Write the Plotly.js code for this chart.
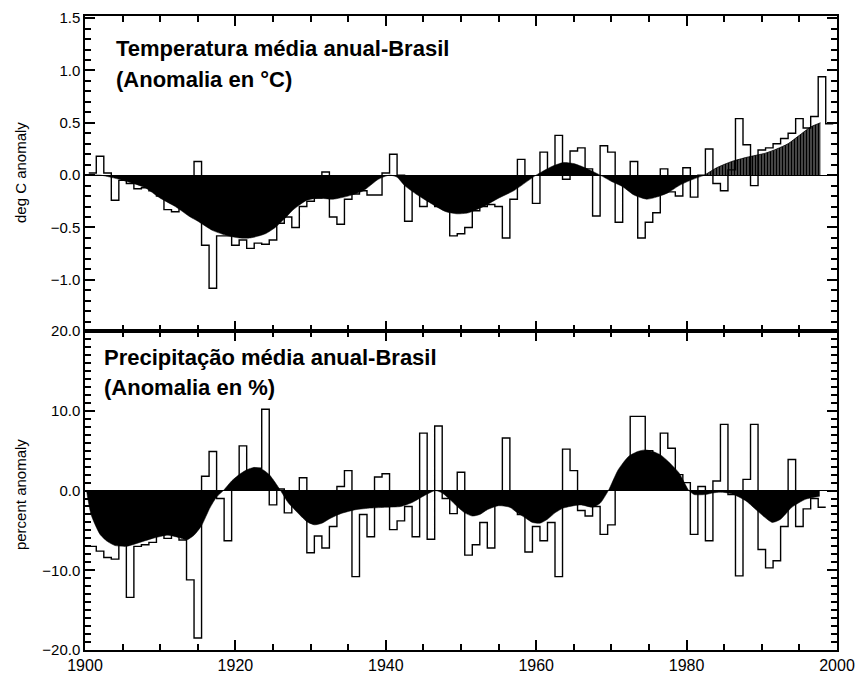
<!DOCTYPE html>
<html>
<head>
<meta charset="utf-8">
<script src="https://cdn.plot.ly/plotly-3.0.1.min.js"></script>
<style>html,body{margin:0;padding:0;background:#fff;}#chart{width:860px;height:674px;}</style>
</head>
<body>
<div id="chart"></div>
<script>
// ---------- DATA ----------
// Temperature: annual anomaly (deg C), years 1901-1999
const tempYears = [];
for (let y = 1901; y <= 1999; y++) tempYears.push(y);
const tempValues = [
  0.02, 0.18, 0.02, -0.24, -0.05, -0.08, -0.13, -0.12, -0.15, -0.20,   // 1901-1910
  -0.33, -0.35, -0.30, -0.32, 0.13, -0.67, -1.08, -0.58, -0.58, -0.67, // 1911-1920
  -0.62, -0.70, -0.65, -0.66, -0.62, -0.46, -0.40, -0.50, -0.30, -0.25, // 1921-1930
  -0.22, 0.03, -0.40, -0.47, -0.23, -0.18, -0.15, -0.19, -0.19, 0.02,  // 1931-1940
  0.20, 0.00, -0.44, -0.15, -0.30, -0.25, -0.30, -0.32, -0.58, -0.56,  // 1941-1950
  -0.50, -0.34, -0.30, -0.28, -0.30, -0.60, -0.23, 0.15, -0.02, -0.27, // 1951-1960
  0.22, 0.05, 0.38, -0.04, 0.23, 0.26, 0.06, -0.39, 0.28, 0.22,        // 1961-1970
  -0.45, -0.10, 0.13, -0.60, -0.45, -0.36, 0.06, -0.16, -0.20, 0.07,   // 1971-1980
  -0.21, 0.00, 0.25, -0.08, -0.15, 0.05, 0.54, 0.29, -0.10, 0.24,      // 1981-1990
  0.26, 0.30, 0.35, 0.40, 0.54, 0.45, 0.56, 0.94, 0.49                 // 1991-1999
];
// Temperature: smoothed curve
const tempSmoothYears = [1900, 1902, 1904, 1906, 1908, 1910, 1912, 1914, 1915, 1917, 1919, 1920.5, 1922, 1924, 1925.3, 1926.5, 1927.7, 1929.5, 1931, 1933, 1935, 1937, 1939, 1940.5, 1941.5, 1942.5, 1944, 1946, 1948, 1949.5, 1951, 1953, 1955, 1957, 1959, 1960, 1962, 1963.6, 1965, 1966.5, 1968.5, 1970, 1971.5, 1973, 1974.7, 1976, 1977.5, 1979, 1980.5, 1982.4, 1984, 1986, 1988, 1990.5, 1992, 1993.5, 1995, 1996.5, 1997.8];
const tempSmooth = [0.0, 0.0, -0.03, -0.07, -0.12, -0.22, -0.30, -0.40, -0.44, -0.53, -0.58, -0.60, -0.60, -0.56, -0.50, -0.42, -0.33, -0.24, -0.22, -0.23, -0.20, -0.15, -0.04, 0.0, -0.02, -0.10, -0.18, -0.27, -0.35, -0.37, -0.36, -0.30, -0.22, -0.15, -0.05, 0.0, 0.08, 0.12, 0.11, 0.07, 0.0, -0.06, -0.11, -0.19, -0.23, -0.21, -0.17, -0.10, -0.05, 0.0, 0.07, 0.13, 0.17, 0.21, 0.25, 0.30, 0.38, 0.46, 0.50];

// Precipitation: annual anomaly (%), years 1901-1998
const precYears = [];
for (let y = 1901; y <= 1998; y++) precYears.push(y);
const precValues = [
  -7.0, -7.6, -8.4, -8.6, -6.5, -13.4, -7.0, -6.8, -6.5, -5.3,   // 1901-1910
  -6.0, -5.6, -6.2, -11.2, -18.5, 1.8, 4.9, -1.0, -6.3, 0.3,      // 1911-1920
  5.6, 2.5, 2.8, 10.2, -1.8, 0.2, -2.8, -0.5, 1.6, -7.8,          // 1921-1930
  -5.7, -7.2, -4.5, 0.5, 2.5, -10.8, -3.0, -5.8, 1.7, 2.1,        // 1931-1940
  -4.9, -3.8, -2.0, -5.8, 7.2, -6.1, 8.1, -1.0, -2.9, 2.3,        // 1941-1950
  -8.1, -6.8, -4.0, -7.2, -1.5, 6.6, -2.0, -3.0, -7.7, -4.5,      // 1951-1960
  -6.3, -4.0, -10.8, 5.2, 2.5, -2.5, -3.2, -2.0, -5.5, -4.3,      // 1961-1970
  0.5, 2.5, 9.3, 9.3, 5.0, 4.0, 7.2, 5.3, 2.0, 1.0,               // 1971-1980
  -5.5, 0.5, -6.3, 1.2, 8.3, -0.5, -10.7, 1.4, 8.3, -7.4,         // 1981-1990
  -9.7, -8.8, -4.5, 3.9, -4.5, -2.3, -1.0, -2.1                   // 1991-1998
];
// Precipitation: smoothed curve
const precSmoothYears = [1900.2, 1900.8, 1902, 1903, 1904, 1905.5, 1907, 1909, 1911, 1912.5, 1913.5, 1914.5, 1915.5, 1916.6, 1917.5, 1918.4, 1919.5, 1920.5, 1921.5, 1922.5, 1923.5, 1924.5, 1925.3, 1926, 1927, 1928.5, 1929.5, 1930.5, 1931.5, 1932.6, 1934, 1936, 1938, 1940, 1942, 1943.5, 1945, 1946.6, 1947.5, 1948.5, 1949.5, 1950.5, 1951.5, 1952.5, 1953.5, 1955, 1956.5, 1957.5, 1958.5, 1959.5, 1960.5, 1961.5, 1962.5, 1963.6, 1965, 1966, 1967.5, 1968.5, 1969.6, 1970.9, 1972.3, 1973.5, 1974.5, 1975.5, 1976.5, 1977.5, 1979, 1980.3, 1981, 1982.5, 1983.5, 1984.5, 1986, 1987.9, 1989.7, 1991.4, 1992.5, 1994, 1995.8, 1997.7];
const precSmooth = [0, -3.0, -5.5, -6.4, -6.9, -7.0, -6.6, -6.0, -5.6, -5.9, -6.2, -5.6, -4.4, -2.2, -0.8, 0.0, 1.2, 2.0, 2.6, 2.9, 2.7, 2.0, 1.0, 0.0, -1.5, -3.0, -3.9, -4.3, -4.1, -3.5, -2.9, -2.4, -2.2, -2.1, -2.0, -1.5, -0.7, 0.0, -0.3, -1.1, -2.0, -2.8, -3.2, -3.0, -2.4, -1.9, -2.1, -2.8, -3.4, -4.0, -4.1, -3.6, -2.8, -2.2, -1.9, -1.8, -2.1, -1.6, 0.0, 2.6, 4.3, 4.9, 5.1, 4.9, 4.5, 3.7, 2.2, 0.0, -0.5, -0.5, -0.3, -0.2, -0.4, -1.3, -2.8, -4.0, -3.6, -2.1, -1.1, -0.7];

// ---------- BUILD ----------
function stepXY(years, vals) {
  const x = years.map(v => v - 0.5);
  const y = vals.slice();
  x.push(years[years.length - 1] + 0.5);
  y.push(vals[vals.length - 1]);
  return {x, y};
}
const tS = stepXY(tempYears, tempValues);
const pS = stepXY(precYears, precValues);

const split = 1982.4;
const tA = {x: [], y: []}, tB = {x: [], y: []};
tempSmoothYears.forEach((yr, i) => {
  if (yr <= split) { tA.x.push(yr); tA.y.push(tempSmooth[i]); }
  if (yr >= split) { tB.x.push(yr); tB.y.push(tempSmooth[i]); }
});

const FONT = 'Liberation Sans, Arial, Helvetica, sans-serif';

const traces = [
  {x: tA.x, y: tA.y, xaxis: 'x2', yaxis: 'y2', type: 'scatter', mode: 'lines',
   line: {color: 'black', width: 0.5, shape: 'spline', smoothing: 0.6}, fill: 'tozeroy', fillcolor: 'black', hoverinfo: 'skip'},
  {x: tB.x, y: tB.y, xaxis: 'x2', yaxis: 'y2', type: 'scatter', mode: 'lines',
   line: {color: 'black', width: 0.8, shape: 'spline', smoothing: 0.6}, fill: 'tozeroy',
   fillpattern: {shape: '|', fgcolor: 'black', bgcolor: 'white', size: 3, solidity: 0.82}, hoverinfo: 'skip'},
  {x: tS.x, y: tS.y, xaxis: 'x2', yaxis: 'y2', type: 'scatter', mode: 'lines',
   line: {color: 'black', width: 1.4, shape: 'hv'}},
  {x: precSmoothYears, y: precSmooth, xaxis: 'x', yaxis: 'y', type: 'scatter', mode: 'lines',
   line: {color: 'black', width: 0.5, shape: 'spline', smoothing: 0.6}, fill: 'tozeroy', fillcolor: 'black', hoverinfo: 'skip'},
  {x: pS.x, y: pS.y, xaxis: 'x', yaxis: 'y', type: 'scatter', mode: 'lines',
   line: {color: 'black', width: 1.4, shape: 'hv'}}
];

const commonAxis = {
  showline: true, linecolor: 'black', linewidth: 1.5, mirror: 'ticks',
  ticks: 'inside', ticklen: 10, tickwidth: 2, tickcolor: 'black',
  showgrid: false, zeroline: false
};
const minorTicks = (t0, dt) => ({tick0: t0, dtick: dt, ticks: 'inside', ticklen: 6, tickcolor: 'black', tickwidth: 1.5, showgrid: false});

const layout = {
  width: 860, height: 674,
  margin: {l: 85, r: 23, t: 16, b: 24},
  paper_bgcolor: 'white', plot_bgcolor: 'white',
  showlegend: false,
  font: {family: FONT, color: 'black'},
  xaxis: Object.assign({}, commonAxis, {
    anchor: 'y', domain: [0, 1], range: [1900, 2000],
    tickmode: 'linear', tick0: 1900, dtick: 20, tickformat: 'd',
    tickfont: {family: FONT, size: 16, color: 'black'},
    minor: minorTicks(1900, 5)
  }),
  xaxis2: Object.assign({}, commonAxis, {
    anchor: 'y2', domain: [0, 1], range: [1900, 2000], showticklabels: false,
    tickmode: 'linear', tick0: 1900, dtick: 20,
    minor: minorTicks(1900, 5)
  }),
  yaxis: Object.assign({}, commonAxis, {
    anchor: 'x', domain: [0, 0.503], range: [-20, 20],
    tickmode: 'linear', tick0: 0, dtick: 10, tickformat: '.1f',
    tickfont: {family: FONT, size: 15, color: 'black'},
    zeroline: true, zerolinecolor: 'black', zerolinewidth: 1.2,
    minor: minorTicks(0, 1)
  }),
  yaxis2: Object.assign({}, commonAxis, {
    anchor: 'x2', domain: [0.503, 1], range: [-1.49, 1.52],
    tickmode: 'linear', tick0: 0, dtick: 0.5, tickformat: '.1f',
    tickfont: {family: FONT, size: 15, color: 'black'},
    zeroline: true, zerolinecolor: 'black', zerolinewidth: 1.2,
    minor: minorTicks(0, 0.1)
  }),
  annotations: [
    {text: '<b>Temperatura média anual-Brasil</b>', xref: 'paper', yref: 'paper', x: 0.0386, y: 0.948,
     xanchor: 'left', yanchor: 'middle', showarrow: false, font: {family: FONT, size: 22, color: 'black'}},
    {text: '<b>(Anomalia en °C)</b>', xref: 'paper', yref: 'paper', x: 0.0386, y: 0.9006,
     xanchor: 'left', yanchor: 'middle', showarrow: false, font: {family: FONT, size: 22, color: 'black'}},
    {text: '<b>Precipitação média anual-Brasil</b>', xref: 'paper', yref: 'paper', x: 0.0226, y: 0.4606,
     xanchor: 'left', yanchor: 'middle', showarrow: false, font: {family: FONT, size: 22, color: 'black'}},
    {text: '<b>(Anomalia en %)</b>', xref: 'paper', yref: 'paper', x: 0.0226, y: 0.4148,
     xanchor: 'left', yanchor: 'middle', showarrow: false, font: {family: FONT, size: 22, color: 'black'}},
    {text: 'deg C anomaly', xref: 'paper', yref: 'paper', x: -0.085, y: 0.7524, textangle: -90,
     xanchor: 'center', yanchor: 'middle', showarrow: false, font: {family: FONT, size: 15, color: 'black'}},
    {text: 'percent anomaly', xref: 'paper', yref: 'paper', x: -0.085, y: 0.2445, textangle: -90,
     xanchor: 'center', yanchor: 'middle', showarrow: false, font: {family: FONT, size: 15, color: 'black'}}
  ]
};

Plotly.newPlot('chart', traces, layout, {displayModeBar: false, responsive: false});
</script>
</body>
</html>
